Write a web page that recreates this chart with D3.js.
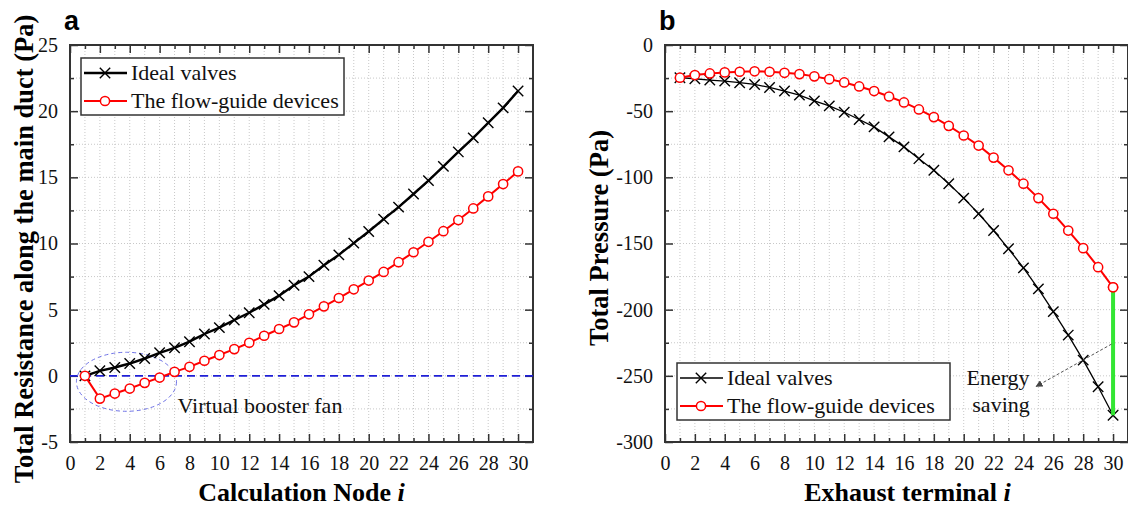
<!DOCTYPE html>
<html>
<head>
<meta charset="utf-8">
<script src="https://cdn.jsdelivr.net/npm/d3@7"></script>
<style>
  body { margin: 0; background: #fff; }
  svg { display: block; }
</style>
</head>
<body>
<div id="chart"></div>
<script>
// node / terminal index
var nodes = [1,2,3,4,5,6,7,8,9,10,11,12,13,14,15,16,17,18,19,20,21,22,23,24,25,26,27,28,29,30];

// panel a: total resistance along the main duct (Pa)
var resistIdeal = [0,0.38,0.63,0.93,1.31,1.74,2.12,2.58,3.16,3.64,4.22,4.77,5.40,6.06,6.84,
                   7.50,8.36,9.14,10.03,10.91,11.84,12.75,13.74,14.75,15.83,16.92,17.98,19.12,20.25,21.52];
var resistGuide = [0,-1.72,-1.34,-0.96,-0.53,-0.13,0.30,0.68,1.14,1.57,2.02,2.50,3.03,3.54,4.04,
                   4.65,5.25,5.88,6.54,7.20,7.85,8.59,9.34,10.13,10.93,11.77,12.65,13.56,14.49,15.45];

// panel b: total pressure (Pa)
var pressIdeal = [-24.7,-25.5,-26.5,-27.3,-28.5,-29.8,-32.1,-34.8,-37.9,-42.2,-46.0,-50.8,-56.3,-61.9,-69.4,
                  -77.0,-85.9,-94.7,-104.8,-115.7,-127.5,-140.2,-154.0,-168.4,-184.3,-201.5,-219.2,-238.1,-258.3,-279.8];
var pressGuide = [-24.7,-22.7,-21.5,-20.7,-20.2,-19.9,-20.2,-21.0,-22.0,-23.7,-25.8,-28.3,-31.3,-34.8,-38.9,
                  -43.4,-48.7,-54.5,-61.1,-68.4,-76.0,-85.1,-94.7,-104.8,-115.7,-127.5,-140.2,-153.5,-167.9,-183.1];

var seriesNames = ["Ideal valves", "The flow-guide devices"];
var xTickLabels = [0,2,4,6,8,10,12,14,16,18,20,22,24,26,28,30];
var yTicksA = [-5,0,5,10,15,20,25];
var yTicksB = [-300,-250,-200,-150,-100,-50,0];

var svgWidth = 1128, svgHeight = 508;
var serif = "'Liberation Serif', 'Times New Roman', serif";

var svg = d3.select("#chart").append("svg")
    .attr("width", svgWidth)
    .attr("height", svgHeight);

var plotTop = 45, plotBottom = 442;

function xTitle(g, cx, label) {
  var t = g.append("text")
      .attr("x", cx).attr("y", 501)
      .attr("text-anchor", "middle")
      .attr("font-family", serif).attr("font-weight", "bold").attr("font-size", 26)
      .text(label + " ");
  t.append("tspan").attr("font-style", "italic").text("i");
}

function crossPath(s) {
  return "M" + (-s) + "," + (-s) + "L" + s + "," + s + "M" + (-s) + "," + s + "L" + s + "," + (-s);
}

// draws frame, grid, ticks and the two series of one panel
function drawPanel(opt) {
  var x = d3.scaleLinear().domain([0, 31]).range([opt.left, opt.right]);
  var y = d3.scaleLinear().domain(opt.yDomain).range([plotBottom, plotTop]);
  var g = svg.append("g");

  // dotted grid
  g.append("g").selectAll("line").data(nodes).enter().append("line")
      .attr("x1", d => x(d)).attr("x2", d => x(d))
      .attr("y1", plotTop).attr("y2", plotBottom)
      .attr("stroke", "#c8c8c8").attr("stroke-width", 1).attr("stroke-dasharray", "1,2");
  g.append("g").selectAll("line").data(opt.yMinor.concat(opt.yTicks)).enter().append("line")
      .attr("x1", opt.left).attr("x2", opt.right)
      .attr("y1", d => y(d)).attr("y2", d => y(d))
      .attr("stroke", "#c8c8c8").attr("stroke-width", 1).attr("stroke-dasharray", "1,2");

  // axes, ticks pointing inward
  var xMinor = nodes.filter(d => d % 2 === 1);
  var plain = d => String(d);
  g.append("g").attr("transform", "translate(0," + plotBottom + ")")
      .call(d3.axisBottom(x).tickValues(xTickLabels).tickSize(-8).tickPadding(14).tickFormat(plain));
  g.append("g").attr("transform", "translate(0," + plotBottom + ")")
      .call(d3.axisBottom(x).tickValues(xMinor).tickSize(-4).tickFormat(""));
  g.append("g").attr("transform", "translate(0," + plotTop + ")")
      .call(d3.axisTop(x).tickValues(xTickLabels).tickSize(-8).tickFormat(""));
  g.append("g").attr("transform", "translate(0," + plotTop + ")")
      .call(d3.axisTop(x).tickValues(xMinor).tickSize(-4).tickFormat(""));
  g.append("g").attr("transform", "translate(" + opt.left + ",0)")
      .call(d3.axisLeft(y).tickValues(opt.yTicks).tickSize(-8).tickPadding(12).tickFormat(plain));
  g.append("g").attr("transform", "translate(" + opt.left + ",0)")
      .call(d3.axisLeft(y).tickValues(opt.yMinor).tickSize(-4).tickFormat(""));
  g.append("g").attr("transform", "translate(" + opt.right + ",0)")
      .call(d3.axisRight(y).tickValues(opt.yTicks).tickSize(-8).tickFormat(""));
  g.append("g").attr("transform", "translate(" + opt.right + ",0)")
      .call(d3.axisRight(y).tickValues(opt.yMinor).tickSize(-4).tickFormat(""));

  g.selectAll(".domain").remove();
  g.selectAll(".tick line").attr("stroke", "#333").attr("stroke-width", 1.5);
  g.selectAll("g").attr("font-family", serif).attr("font-size", 20);
  g.selectAll(".tick text").attr("fill", "#111");

  g.append("rect")
      .attr("x", opt.left).attr("y", plotTop)
      .attr("width", opt.right - opt.left).attr("height", plotBottom - plotTop)
      .attr("fill", "none").attr("stroke", "#333").attr("stroke-width", 2);

  if (opt.extra) opt.extra(g, x, y);

  var line = d3.line().x((d, i) => x(nodes[i])).y(d => y(d));

  // ideal valves: black with crosses
  g.append("path").datum(opt.ideal)
      .attr("d", line).attr("fill", "none")
      .attr("stroke", "#000").attr("stroke-width", opt.blackWidth);
  g.append("g").selectAll("path").data(opt.ideal).enter().append("path")
      .attr("transform", (d, i) => "translate(" + x(nodes[i]) + "," + y(d) + ")")
      .attr("d", crossPath(5.2))
      .attr("stroke", "#000").attr("stroke-width", 1.4);

  // flow-guide devices: red with open circles
  g.append("path").datum(opt.guide)
      .attr("d", line).attr("fill", "none")
      .attr("stroke", "#f00").attr("stroke-width", 2);
  g.append("g").selectAll("circle").data(opt.guide).enter().append("circle")
      .attr("cx", (d, i) => x(nodes[i])).attr("cy", d => y(d)).attr("r", 4.6)
      .attr("fill", "#fff").attr("stroke", "#f00").attr("stroke-width", 1.5);

  if (opt.after) opt.after(g, x, y);

  // legend
  var lg = g.append("g").attr("transform", "translate(" + opt.legend[0] + "," + opt.legend[1] + ")");
  lg.append("rect").attr("width", opt.legendW).attr("height", 57)
      .attr("fill", "#fff").attr("stroke", "#333").attr("stroke-width", 1.5);
  seriesNames.forEach(function(name, i) {
    var ly = 15 + i * 28;
    var row = lg.append("g").attr("transform", "translate(0," + ly + ")");
    row.append("line").attr("x1", 3).attr("x2", 46).attr("y1", 0).attr("y2", 0)
        .attr("stroke", i === 0 ? "#000" : "#f00").attr("stroke-width", i === 0 ? opt.blackWidth : 2);
    if (i === 0) {
      row.append("path").attr("transform", "translate(24,0)").attr("d", crossPath(5.2))
          .attr("stroke", "#000").attr("stroke-width", 1.4);
    } else {
      row.append("circle").attr("cx", 24).attr("cy", 0).attr("r", 4.6)
          .attr("fill", "#fff").attr("stroke", "#f00").attr("stroke-width", 1.5);
    }
    row.append("text").attr("x", 50).attr("y", 7)
        .attr("font-family", serif).attr("font-size", 22).attr("fill", "#111")
        .text(name);
  });

  // panel letter
  g.append("text").attr("x", opt.left - 6).attr("y", 30)
      .attr("font-family", "'Liberation Sans', Arial, sans-serif")
      .attr("font-weight", "bold").attr("font-size", 27)
      .text(opt.letter);

  xTitle(g, (opt.left + opt.right) / 2 + opt.titleShift, opt.xLabel);

  g.append("text")
      .attr("transform", "translate(" + opt.yTitleX + "," + opt.yTitleY + ") rotate(-90)")
      .attr("text-anchor", "middle")
      .attr("font-family", serif).attr("font-weight", "bold").attr("font-size", 26.5)
      .text(opt.yLabel);
}

drawPanel({
  left: 70, right: 533, letter: "a",
  yDomain: [-5, 25], yTicks: yTicksA, yMinor: [-2.5, 2.5, 7.5, 12.5, 17.5, 22.5],
  ideal: resistIdeal, guide: resistGuide, blackWidth: 2.4,
  legend: [81, 58], legendW: 263,
  xLabel: "Calculation Node", titleShift: 0,
  yLabel: "Total Resistance along the main duct (Pa)", yTitleX: 33, yTitleY: 249,
  extra: function(g, x, y) {
    // zero reference line
    g.append("line").attr("x1", x(0)).attr("x2", x(31)).attr("y1", y(0)).attr("y2", y(0))
        .attr("stroke", "#1f1fd6").attr("stroke-width", 1.6).attr("stroke-dasharray", "8,5");
    g.append("ellipse")
        .attr("cx", x(3.78)).attr("cy", y(-0.45))
        .attr("rx", x(3.35) - x(0)).attr("ry", y(0) - y(2.23))
        .attr("fill", "none").attr("stroke", "#6f73e6").attr("stroke-width", 1)
        .attr("stroke-dasharray", "4,3");
    g.append("text").attr("x", x(7.2)).attr("y", y(-2.8))
        .attr("font-family", serif).attr("font-size", 22).attr("fill", "#111")
        .text("Virtual booster fan");
  }
});

drawPanel({
  left: 665, right: 1128, letter: "b",
  yDomain: [-300, 0], yTicks: yTicksB, yMinor: [-275, -225, -175, -125, -75, -25],
  ideal: pressIdeal, guide: pressGuide, blackWidth: 1.3,
  legend: [677, 363], legendW: 273,
  xLabel: "Exhaust terminal", titleShift: 11,
  yLabel: "Total Pressure (Pa)", yTitleX: 608, yTitleY: 238,
  after: function(g, x, y) {
    var last = nodes.length - 1;
    g.append("line")
        .attr("x1", x(nodes[last])).attr("x2", x(nodes[last]))
        .attr("y1", y(pressGuide[last]) + 4).attr("y2", y(pressIdeal[last]))
        .attr("stroke", "#33e633").attr("stroke-width", 4);
    g.append("circle").attr("cx", x(nodes[last])).attr("cy", y(pressGuide[last])).attr("r", 4.6)
        .attr("fill", "#fff").attr("stroke", "#f00").attr("stroke-width", 1.5);
    svg.append("defs").append("marker")
        .attr("id", "arr").attr("viewBox", "0 0 10 10").attr("refX", 9).attr("refY", 5)
        .attr("markerWidth", 7).attr("markerHeight", 7).attr("orient", "auto")
        .append("path").attr("d", "M0,0L10,5L0,10z").attr("fill", "#444");
    g.append("line")
        .attr("x1", x(29.9)).attr("y1", y(-226)).attr("x2", x(24.85)).attr("y2", y(-258))
        .attr("stroke", "#555").attr("stroke-width", 1).attr("stroke-dasharray", "3,2")
        .attr("marker-end", "url(#arr)");
    g.append("text").attr("x", x(22.3)).attr("y", y(-257))
        .attr("text-anchor", "middle")
        .attr("font-family", serif).attr("font-size", 22).attr("fill", "#111")
        .text("Energy");
    g.append("text").attr("x", x(22.5)).attr("y", y(-277))
        .attr("text-anchor", "middle")
        .attr("font-family", serif).attr("font-size", 22).attr("fill", "#111")
        .text("saving");
  }
});
</script>
</body>
</html>
